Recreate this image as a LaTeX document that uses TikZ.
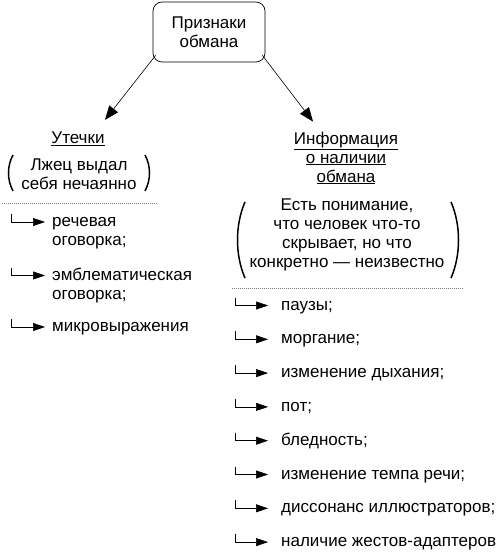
\documentclass[tikz,border=0pt]{standalone}
\usepackage{fontspec}
\setmainfont{Liberation Sans}
\usetikzlibrary{arrows.meta}

\begin{document}
\begin{tikzpicture}[x=1pt,y=-1pt,
    txt/.style={font=\fontsize{17}{19}\selectfont, inner sep=0pt, align=center},
    item/.style={txt, align=left, anchor=base west},
    bigtip/.style={-{Triangle[length=14pt,width=11pt]}, line width=0.6pt},
    hook/.style={-{Triangle[length=12pt,width=8pt]}, line width=0.6pt},
    paren/.style={line width=1.5pt},
    dots/.style={gray, line width=0.4pt, dash pattern=on 1pt off 1pt}]
    \useasboundingbox (0,0) rectangle (501,553);
    \node[txt, draw, rounded corners=9pt, minimum width=112pt, minimum height=60pt,
        line width=0.7pt] (top) at (209,32) {Признаки\\обмана};
    \node[txt] (leak) at (78,139) {\underline{Утечки}};
    \node[txt] (info) at (346,158) {\underline{Информация}\\\underline{о наличии}\\\underline{обмана}};
    \draw[bigtip] ([shift={(3,-7)}]top.south west) -- ([shift={(27,-12)}]leak.north);
    \draw[bigtip] ([shift={(-3,-7)}]top.south east) -- ([shift={(-33,-10)}]info.north);
    % left branch
    \node[txt] (slip) at (79,174) {Лжец выдал\\себя нечаянно};
    \draw[paren] (13,155) .. controls (7,166) and (7,180) .. (13,191);
    \draw[paren] (145,155) .. controls (151,166) and (151,180) .. (145,191);
    \draw[dots] (2,203) -- (158,203);
    \foreach \y/\n/\t [count=\i] in {226.5/1/{речевая\\оговорка;}, 280/1/{эмблематическая\\оговорка;},
        331.5/0/{микровыражения}} {
        \node[item] (l\i) at (52,\y+19*\n) {\t};
        \draw[hook] ([shift={(-41,-12.5-19*\n)}]l\i.base west) |- ([shift={(-7,-4.5-19*\n)}]l\i.base west);
    }
    % right branch
    \node[txt] (hint) at (347,235) {Есть понимание,\\что человек что-то\\скрывает, но что\\конкретно~--- неизвестно};
    \draw[paren] (245,202) .. controls (235,225) and (235,255) .. (245,278);
    \draw[paren] (451,202) .. controls (461,225) and (461,255) .. (451,278);
    \draw[dots] (232,288) -- (463,288);
    \foreach \t [count=\i from 0] in {паузы;, моргание;, изменение дыхания;, пот;, бледность;,
        изменение темпа речи;, диссонанс иллюстраторов;, наличие жестов-адаптеров} {
        \node[item] (r\i) at (281,310+33.8*\i) {\t};
        \draw[hook] ([shift={(-46,-12.5)}]r\i.base west) |- ([shift={(-13,-4.5)}]r\i.base west);
    }
\end{tikzpicture}
\end{document}
